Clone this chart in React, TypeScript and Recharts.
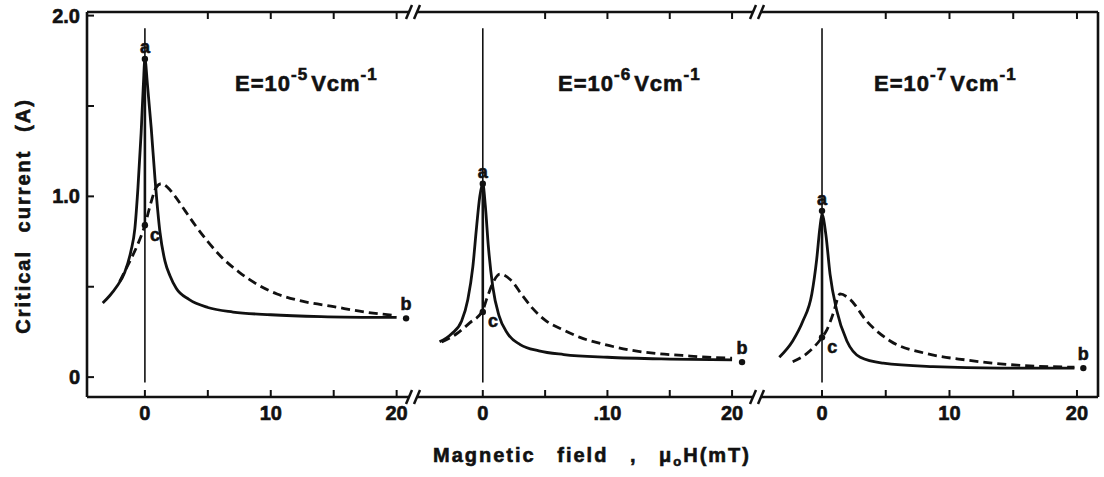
import React from 'react'
import { LineChart, Line, XAxis, YAxis, ReferenceLine, ReferenceDot } from 'recharts'

const INK = '#111'
const FONT = '"Liberation Sans", Arial, sans-serif'

// shared axes
const Y_TICKS = [0, 0.5, 1, 1.5, 2]
const Y_TICK_LABELS = ['0', '', '1.0', '', '2.0']
const X_TICKS = [0, 5, 10, 15, 20]
const X_TICK_LABELS = [
  ['0', '', '10', '', '20'],
  ['0', '', '.10', '', '20'],
  ['0', '', '10', '', '20'],
]
const FIELD_EXPONENTS = ['-5', '-6', '-7']

// E = 1e-5 V/cm
const p1SolidX = [-3.35, -2.8, -2.25, -1.6, -1.1, -0.8, -0.55, -0.3, -0.12, 0, 0.2, 0.5, 0.8, 1.2, 1.6, 2.0, 2.5, 3.5, 5, 7, 10, 14, 20]
const p1SolidY = [0.41, 0.45, 0.5, 0.58, 0.7, 0.82, 1.05, 1.35, 1.62, 1.76, 1.62, 1.38, 1.1, 0.8, 0.64, 0.56, 0.49, 0.43, 0.385, 0.36, 0.345, 0.335, 0.33]
const p1DashX = [-2.0, -1.35, -0.66, 0, 0.5, 0.9, 1.3, 1.8, 2.4, 3.2, 4, 5, 6, 7.5, 9, 10.5, 12.5, 15, 17.5, 20]
const p1DashY = [0.53, 0.62, 0.72, 0.84, 0.97, 1.05, 1.07, 1.05, 1.0, 0.92, 0.84, 0.75, 0.67, 0.58, 0.51, 0.46, 0.42, 0.39, 0.36, 0.34]

// E = 1e-6 V/cm
const p2SolidX = [-3.47, -2.5, -1.7, -1.2, -0.8, -0.5, -0.24, 0, 0.2, 0.45, 0.8, 1.3, 2.0, 3, 4.5, 6.5, 10, 15, 20]
const p2SolidY = [0.195, 0.24, 0.31, 0.43, 0.61, 0.83, 1.0, 1.07, 0.95, 0.72, 0.5, 0.34, 0.24, 0.18, 0.145, 0.125, 0.11, 0.1, 0.095]
const p2DashX = [-3.3, -2.1, -1.05, 0, 0.3, 0.8, 1.37, 2.2, 3.2, 4, 5.1, 6.5, 7.8, 9.8, 11.8, 14, 16, 18, 20]
const p2DashY = [0.195, 0.24, 0.3, 0.37, 0.43, 0.52, 0.57, 0.54, 0.45, 0.38, 0.31, 0.26, 0.22, 0.18, 0.15, 0.13, 0.12, 0.11, 0.105]

// E = 1e-7 V/cm
const p3SolidX = [-3.35, -2.3, -1.5, -0.8, -0.42, -0.16, 0, 0.3, 0.63, 1.15, 1.95, 3, 4.8, 8.7, 14, 19.8]
const p3SolidY = [0.11, 0.2, 0.31, 0.46, 0.65, 0.83, 0.9, 0.79, 0.57, 0.37, 0.2, 0.11, 0.077, 0.058, 0.05, 0.05]
const p3DashX = [-2.3, -1.2, 0, 0.37, 0.87, 1.42, 2.2, 3.5, 5.35, 8.2, 11.4, 15.3, 19.8]
const p3DashY = [0.085, 0.13, 0.22, 0.26, 0.35, 0.46, 0.43, 0.31, 0.2, 0.13, 0.094, 0.066, 0.055]

// marked states a (peak), b (high field), c (after reversal)
const A_Y = [1.76, 1.07, 0.92]
const C_Y = [0.84, 0.36, 0.22]
const B_X = [20.75, 20.8, 20.5]
const B_Y = [0.325, 0.083, 0.05]

const Y_DOMAIN: [number, number] = [-0.11, 2.02]

const toPts = (xs: number[], ys: number[]) => xs.map((x, i) => ({ x, y: ys[i] }))

const panels = [
  { left: 0, width: 413, domain: [-4.6, 21.3], solid: toPts(p1SolidX, p1SolidY), dash: toPts(p1DashX, p1DashY) },
  { left: 413, width: 344, domain: [-5.6, 22.0], solid: toPts(p2SolidX, p2SolidY), dash: toPts(p2DashX, p2DashY) },
  { left: 757, width: 347, domain: [-5.1, 21.65], solid: toPts(p3SolidX, p3SolidY), dash: toPts(p3DashX, p3DashY) },
]

// scanned lettering is heavy, so give the bold face a thin outline
const heavy = { stroke: INK, strokeWidth: 0.6 }
const tickFont = { fill: INK, fontSize: 20, fontWeight: 700, fontFamily: FONT, ...heavy }
const markFont = { fill: INK, fontSize: 18, fontWeight: 700, fontFamily: FONT, ...heavy }

function Panel({ i }: { i: number }) {
  const p = panels[i]
  const labels = X_TICK_LABELS[i]
  return (
    <div style={{ position: 'absolute', left: p.left, top: 0 }}>
      <LineChart width={p.width} height={477} margin={{ top: 0, right: 0, bottom: 0, left: 0 }}>
        <XAxis
          dataKey="x" type="number" domain={p.domain} allowDataOverflow
          ticks={X_TICKS} interval={0} height={80}
          tickFormatter={(v: number) => labels[X_TICKS.indexOf(v)] ?? ''}
          axisLine={{ stroke: INK, strokeWidth: 2.6 }}
          tickLine={{ stroke: INK, strokeWidth: 2 }}
          tickSize={-7} tickMargin={16} tick={tickFont}
        />
        <XAxis
          xAxisId="top" orientation="top" dataKey="x" type="number" domain={p.domain} allowDataOverflow
          ticks={[5, 10, 15, 20]} interval={0} height={12}
          tickFormatter={() => ''}
          axisLine={{ stroke: INK, strokeWidth: 2.6 }}
          tickLine={{ stroke: INK, strokeWidth: 2 }}
          tickSize={-7}
        />
        {i === 0 ? (
          <YAxis
            type="number" domain={Y_DOMAIN} allowDataOverflow ticks={Y_TICKS} interval={0} width={87}
            tickFormatter={(v: number) => Y_TICK_LABELS[Y_TICKS.indexOf(v)] ?? ''}
            axisLine={{ stroke: INK, strokeWidth: 2.6 }}
            tickLine={{ stroke: INK, strokeWidth: 2 }}
            tickSize={-7} tickMargin={14} tick={tickFont}
          />
        ) : (
          <YAxis type="number" domain={Y_DOMAIN} allowDataOverflow hide />
        )}
        {i === 2 && (
          <YAxis
            yAxisId="right" orientation="right" type="number" domain={Y_DOMAIN} width={6}
            tick={false} tickLine={false} axisLine={{ stroke: INK, strokeWidth: 2.6 }}
          />
        )}

        <ReferenceLine segment={[{ x: 0, y: -0.03 }, { x: 0, y: 1.93 }]} stroke={INK} strokeWidth={1.6} />
        <ReferenceLine segment={[{ x: 0, y: C_Y[i] }, { x: 0, y: A_Y[i] }]} stroke={INK} strokeWidth={2.6} />

        <Line data={p.solid} dataKey="y" type="monotone" stroke={INK} strokeWidth={2.8}
          dot={false} activeDot={false} isAnimationActive={false} />
        <Line data={p.dash} dataKey="y" type="monotone" stroke={INK} strokeWidth={2.8} strokeDasharray="9 5"
          dot={false} activeDot={false} isAnimationActive={false} />

        <ReferenceDot x={0} y={A_Y[i]} r={3.2} fill={INK} stroke="none"
          label={{ value: 'a', position: 'top', offset: 3, ...markFont }} />
        <ReferenceDot x={0} y={C_Y[i]} r={3.2} fill={INK} stroke="none"
          label={{ value: 'c', position: 'right', offset: 2, dy: 9, ...markFont }} />
        <ReferenceDot x={B_X[i]} y={B_Y[i]} r={3.2} fill={INK} stroke="none"
          label={{ value: 'b', position: 'top', offset: 5, ...markFont }} />
      </LineChart>
    </div>
  )
}

function AxisBreak({ cx, y }: { cx: number; y: number }) {
  return (
    <g>
      <rect x={cx - 4} y={y - 3} width={8} height={6} fill="#fff" />
      <line x1={cx - 7} y1={y + 7} x2={cx - 1} y2={y - 7} stroke={INK} strokeWidth={2.5} />
      <line x1={cx + 1} y1={y + 7} x2={cx + 7} y2={y - 7} stroke={INK} strokeWidth={2.5} />
    </g>
  )
}

const annotationX = [235, 558, 874]

export default function App() {
  return (
    <div style={{ position: 'absolute', left: 0, top: 0, width: 1104, height: 477, background: '#fff' }}>
      {panels.map((_, i) => <Panel key={i} i={i} />)}
      <svg width={1104} height={477} style={{ position: 'absolute', left: 0, top: 0, pointerEvents: 'none' }}>
        <AxisBreak cx={413} y={12} />
        <AxisBreak cx={413} y={397} />
        <AxisBreak cx={757} y={12} />
        <AxisBreak cx={757} y={397} />

        {FIELD_EXPONENTS.map((e, i) => (
          <text key={e} x={annotationX[i]} y={91} fill={INK} fontFamily={FONT} fontWeight={700} fontSize={22}
            letterSpacing={1} {...heavy}>
            E=10
            <tspan dy={-11} fontSize={17}>{e}</tspan>
            <tspan dy={11} dx={3}>Vcm</tspan>
            <tspan dy={-11} fontSize={17}>-1</tspan>
          </text>
        ))}

        <text x={25} y={216} transform="rotate(-90 25 216)" textAnchor="middle" dominantBaseline="middle"
          fill={INK} fontFamily={FONT} fontWeight={700} fontSize={20} letterSpacing={2} wordSpacing={10} {...heavy}>
          Critical current (A)
        </text>

        <text x={592} y={462} textAnchor="middle" fill={INK} fontFamily={FONT} fontWeight={700} fontSize={20}
          letterSpacing={2} wordSpacing={14} {...heavy}>
          Magnetic field , μ<tspan dy={4} fontSize={13}>o</tspan><tspan dy={-4}>H(mT)</tspan>
        </text>
      </svg>
    </div>
  )
}
